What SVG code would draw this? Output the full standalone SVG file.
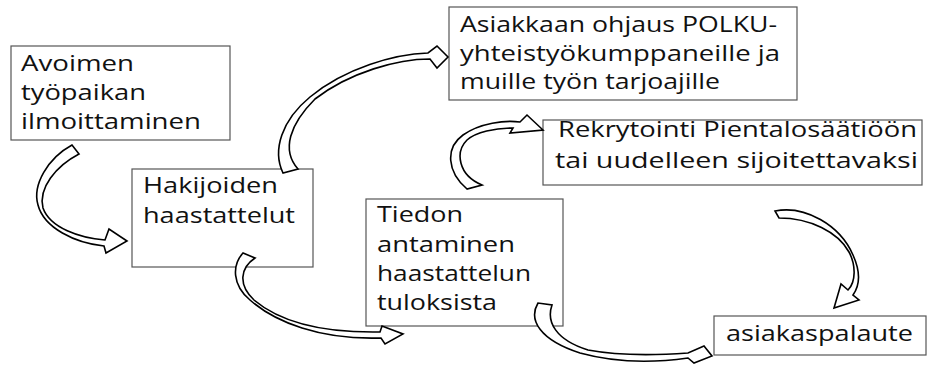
<svg xmlns="http://www.w3.org/2000/svg" width="934" height="365" viewBox="0 0 934 365">
<style>
.box{fill:#fff;stroke:#555;stroke-width:1.2}
.t{font-family:"Open Sans","Noto Sans",sans-serif;font-size:21px;fill:#111}
.arr{fill:#fff;stroke:#000;stroke-width:1.6;stroke-linejoin:miter}
</style>
<rect width="934" height="365" fill="#fff"/>
<g id="n1">
<rect class="box" x="11" y="46" width="219" height="94"/>
<text class="t" x="21" y="71" textLength="113" lengthAdjust="spacingAndGlyphs">Avoimen</text>
<text class="t" x="21" y="100" textLength="125" lengthAdjust="spacingAndGlyphs">työpaikan</text>
<text class="t" x="21" y="129" textLength="180" lengthAdjust="spacingAndGlyphs">ilmoittaminen</text>
</g>
<g id="n2">
<rect class="box" x="132" y="169" width="181" height="98"/>
<text class="t" x="143" y="193" textLength="135" lengthAdjust="spacingAndGlyphs">Hakijoiden</text>
<text class="t" x="143" y="223" textLength="152" lengthAdjust="spacingAndGlyphs">haastattelut</text>
</g>
<g id="n3">
<rect class="box" x="449" y="7" width="348" height="93"/>
<text class="t" x="460" y="32" textLength="317" lengthAdjust="spacingAndGlyphs">Asiakkaan ohjaus POLKU-</text>
<text class="t" x="460" y="61" textLength="320" lengthAdjust="spacingAndGlyphs">yhteistyökumppaneille ja</text>
<text class="t" x="460" y="89" textLength="260" lengthAdjust="spacingAndGlyphs">muille työn tarjoajille</text>
</g>
<g id="n4">
<rect class="box" x="543" y="120" width="379" height="65"/>
<text class="t" x="558" y="137" textLength="359" lengthAdjust="spacingAndGlyphs">Rekrytointi Pientalosäätiöön</text>
<text class="t" x="555" y="168" textLength="363" lengthAdjust="spacingAndGlyphs">tai uudelleen sijoitettavaksi</text>
</g>
<g id="n5">
<rect class="box" x="366" y="199" width="197" height="127"/>
<text class="t" x="377" y="222" textLength="86" lengthAdjust="spacingAndGlyphs">Tiedon</text>
<text class="t" x="377" y="252" textLength="138" lengthAdjust="spacingAndGlyphs">antaminen</text>
<text class="t" x="377" y="281" textLength="154" lengthAdjust="spacingAndGlyphs">haastattelun</text>
<text class="t" x="377" y="310" textLength="120" lengthAdjust="spacingAndGlyphs">tuloksista</text>
</g>
<g id="n6">
<rect class="box" x="714" y="316" width="212" height="39"/>
<text class="t" x="726" y="341" textLength="187" lengthAdjust="spacingAndGlyphs">asiakaspalaute</text>
</g>
<g id="connectors">
<path class="arr" d="M72,145 C48,158 32,185 38,205 C44,228 75,243 104,246 L106,253 L127,241 L109,229 L105,240 C80,238 50,228 43,208 C38,188 56,166 79,154 Z"/>
<path class="arr" d="M283,173 C272,150 282,120 310,97 C345,68 395,54 428,53 L437,46 L448,57 L437,68 L430,59 C398,59 350,72 315,99 C290,124 281,150 298,169 Z"/>
<path class="arr" d="M243,253 C232,265 232,285 250,300 C275,322 320,340 381,338 L385,344 L403,334 L382,326 L380,332 C320,333 280,322 254,300 C238,285 240,268 255,258 Z"/>
<path class="arr" d="M467,189 C447,172 445,148 463,135 C480,123 505,120 520,122 L527,115 L543,130 L510,133 L513,128 C495,128 476,132 467,140 C455,152 458,175 482,185 Z"/>
<path class="arr" d="M538,303 C528,320 540,340 580,353 C620,364 660,362 688,358 L694,363 L712,356 L704,346 L688,353 C660,355 620,356 588,350 C556,340 546,322 552,305 Z"/>
<path class="arr" d="M775,211 C805,205 840,225 853,255 C862,275 858,288 853,295 L859,300 L834,308 L841,284 L848,290 C856,282 856,265 849,252 C838,232 810,218 779,218 Z"/>
</g>
</svg>
